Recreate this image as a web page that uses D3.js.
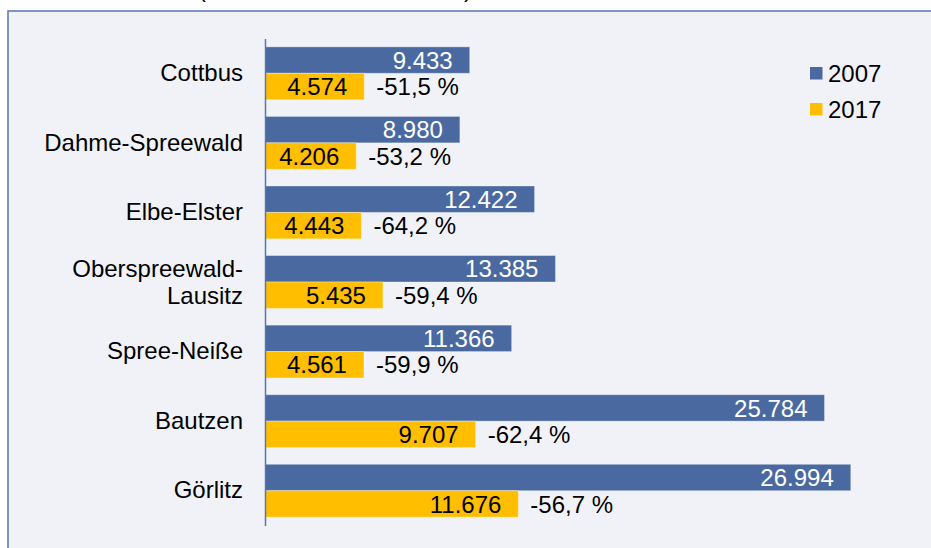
<!DOCTYPE html>
<html>
<head>
<meta charset="utf-8">
<script src="https://cdn.jsdelivr.net/npm/d3@7"></script>
<style>
  html, body { margin: 0; padding: 0; background: #ffffff; }
  svg { display: block; font-family: "Liberation Sans", Arial, sans-serif; }
</style>
</head>
<body>
<svg id="chart" width="931" height="548"></svg>
<script>
const categories = ["Cottbus", "Dahme-Spreewald", "Elbe-Elster", "Oberspreewald-Lausitz", "Spree-Neiße", "Bautzen", "Görlitz"];
const seriesNames = ["2007", "2017"];
const values2007 = [9433, 8980, 12422, 13385, 11366, 25784, 26994];
const values2017 = [4574, 4206, 4443, 5435, 4561, 9707, 11676];
const changeLabels = ["-51,5 %", "-53,2 %", "-64,2 %", "-59,4 %", "-59,9 %", "-62,4 %", "-56,7 %"];
const colors = ["#4a69a1", "#ffbf00"];

const W = 931, H = 548;
const FONT = "'Liberation Sans', Arial, sans-serif";
const svg = d3.select("#chart");
const fontSize = 24;

// outer panel
svg.append("rect").attr("x", 0).attr("y", 0).attr("width", W).attr("height", H).attr("fill", "#ffffff");
svg.append("rect").attr("x", 8).attr("y", 11).attr("width", W).attr("height", H)
  .attr("fill", "#f1f2f8").attr("stroke", "#5876ad").attr("stroke-width", 1.5);

// clipped title remnants (title mostly above the visible area)
svg.append("text").attr("x", 202).attr("y", -3).attr("font-size", fontSize).attr("text-anchor", "middle").text("(");
svg.append("text").attr("x", 468).attr("y", -3).attr("font-size", fontSize).attr("text-anchor", "middle").text(")");

const x0 = 265;
const x = d3.scaleLinear().domain([0, 30000]).range([x0, x0 + 651]);
const y = d3.scaleBand().domain(categories).range([38.5, 525.5]).paddingInner(0.24).paddingOuter(0.12);
const ySub = d3.scaleBand().domain(seriesNames).range([0, y.bandwidth()]);

const de = d3.formatLocale({ decimal: ",", thousands: ".", grouping: [3], currency: ["", " €"] });
const fmt = de.format(",d");

const rows = categories.map((c, i) => ({ cat: c, v: [values2007[i], values2017[i]], change: changeLabels[i] }));

const g = svg.append("g");

rows.forEach(r => {
  seriesNames.forEach((s, si) => {
    const yy = y(r.cat) + ySub(s);
    g.append("rect")
      .attr("x", x(0)).attr("y", yy)
      .attr("width", x(r.v[si]) - x(0)).attr("height", ySub.bandwidth())
      .attr("fill", colors[si])
      .attr("stroke", "#ffffff").attr("stroke-opacity", 0.35).attr("stroke-width", 1);
    g.append("text")
      .attr("x", x(r.v[si]) - 17).attr("y", yy + ySub.bandwidth() / 2)
      .attr("dy", "0.36em").attr("text-anchor", "end")
      .attr("font-size", fontSize)
      .attr("fill", si === 0 ? "#ffffff" : "#000000")
      .text(fmt(r.v[si]));
  });
  const yy2 = y(r.cat) + ySub("2017");
  g.append("text")
    .attr("x", x(r.v[1]) + 12).attr("y", yy2 + ySub.bandwidth() / 2)
    .attr("dy", "0.36em").attr("text-anchor", "start")
    .attr("font-size", fontSize).attr("fill", "#000")
    .text(r.change);
});

// category axis
const axis = svg.append("g").attr("transform", `translate(${x0},0)`)
  .call(d3.axisLeft(y).tickSize(0).tickPadding(22));
axis.attr("font-family", FONT);
axis.select(".domain").attr("stroke", "#5876ad").attr("stroke-width", 1.5);
axis.selectAll(".tick text")
  .attr("font-size", fontSize).attr("fill", "#000")
  .attr("font-family", FONT)
  .each(function (d) {
    const t = d3.select(this);
    if (this.getComputedTextLength() > 225 && d.includes("-")) {
      const idx = d.indexOf("-");
      const parts = [d.slice(0, idx + 1), d.slice(idx + 1)];
      const xAttr = t.attr("x");
      t.text(null).attr("dy", null);
      parts.forEach((p, k) => {
        t.append("tspan").attr("x", xAttr)
          .attr("dy", k === 0 ? "-0.22em" : "1.15em")
          .text(p);
      });
    }
  });

// legend
const legend = svg.append("g");
seriesNames.forEach((s, i) => {
  const ly = 67 + i * 36;
  legend.append("rect").attr("x", 810).attr("y", ly).attr("width", 12.5).attr("height", 12.5).attr("fill", colors[i]);
  legend.append("text").attr("x", 828).attr("y", ly + 6.3).attr("dy", "0.36em")
    .attr("font-size", fontSize).attr("fill", "#000").text(s);
});
</script>
</body>
</html>
